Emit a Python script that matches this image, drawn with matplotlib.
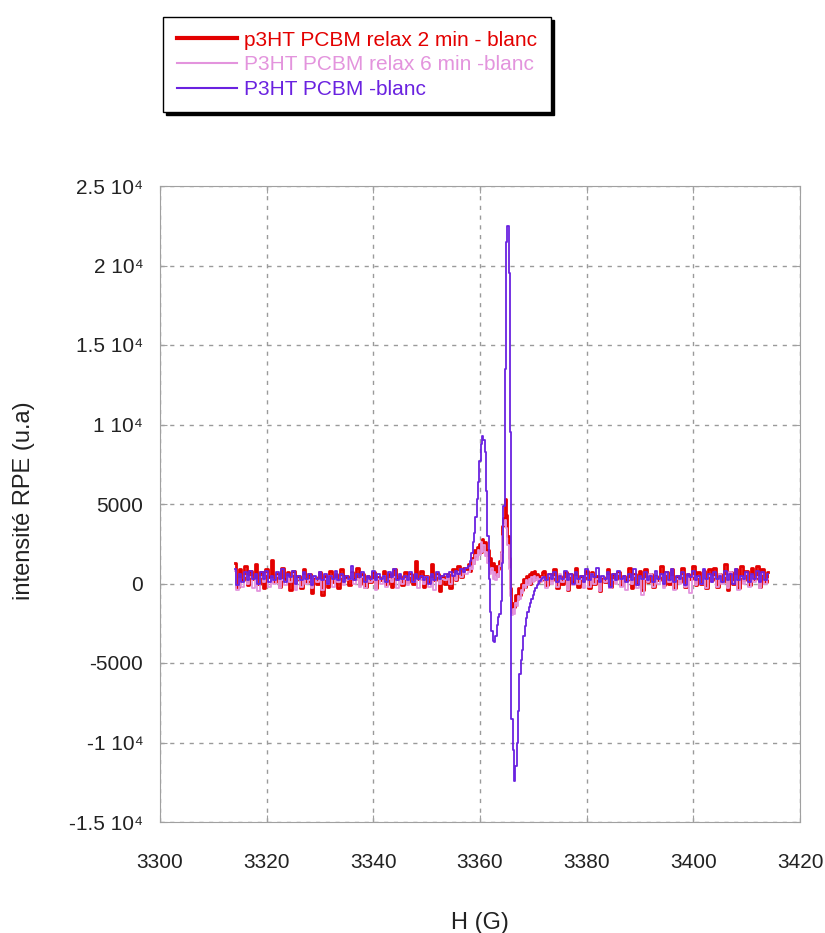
import matplotlib
matplotlib.use("Agg")
import matplotlib.pyplot as plt
from matplotlib.lines import Line2D
import numpy as np

plt.rcParams['font.family'] = ['Liberation Sans', 'DejaVu Sans']

# series names and colours
labels = ["p3HT PCBM relax 2 min - blanc",
          "P3HT PCBM relax 6 min -blanc",
          "P3HT PCBM -blanc"]
colors = ["#e30000", "#e394dd", "#6a22e0"]

# field grid of the sweep, split in three pieces (left baseline, signal, right baseline)
left_start, left_end = 3314.0, 3357.5
right_start, right_end = 3372.0, 3414.0
peak_field = np.arange(3358.0, 3372.0, 0.25)

# ---- p3HT PCBM relax 2 min - blanc (red) ----
red_left = [1300, -200, 900, 200, 1100, -100, 800, 300,
            1200, 0, 700, -300, 900, 400, 1500, 100,
            600, -200, 1000, 300, 700, -400, 800, 200,
            500, -300, 900, 100, 600, -600, 400, 0,
            700, -700, 500, -200, 800, 100, 600, -300,
            900, 200, 500, -100, 700, 300, 1000, 0,
            600, -200, 500, 100, 700, -300, 400, 200,
            800, 0, 600, -200, 900, 300, 500, -100,
            700, 100, 600, 0, 1400, 300, 800, -200,
            500, 100, 1200, 200, 600, -500, 500, 0,
            600, -300, 900, 200, 1100, 400, 1000, 900]
red_peak = [1200, 800, 1600, 1300, 2100, 1700, 2300, 1900,
            2500, 2000, 2800, 2200, 2600, 1800, 2100, 1200,
            1600, 900, 1300, 600, 1100, 500, 900, 1400,
            2000, 3600, 4100, 5300, 4300, 3000, 1600, -300,
            -1800, -1200, -1500, -700, -1000, -300, -700, 0,
            -400, 300, -200, 500, 100, 600, 0, 700,
            200, 800, 300, 600, 100, 500, 200, 700]
red_right = [800, -100, 600, 200, 900, -300, 500, 0,
             700, -400, 600, 100, 1000, -200, 500, 300,
             800, -300, 700, 0, 500, -500, 400, 100,
             900, -200, 600, 300, 700, -100, 500, 200,
             1000, -300, 600, 0, 800, -400, 900, 100,
             600, -200, 500, 200, 1100, -100, 700, 0,
             900, -300, 500, 100, 1000, -200, 600, 300,
             1100, -100, 700, 0, 800, -300, 900, 200,
             1000, -200, 600, 100, 1200, -400, 700, 0,
             900, -300, 1100, 200, 800, -100, 1000, 300,
             1100, -200, 900, 100, 700]

# ---- P3HT PCBM relax 6 min -blanc (pink) ----
pink_left = [800, -400, 300, -200, 500, 0, 400, -300,
             200, -500, 400, 100, 600, -200, 300, 0,
             500, -300, 200, -100, 400, 100, 600, -400,
             300, -200, 500, 0, 200, -300, 400, 100,
             200, -400, 300, 0, 500, -200, 300, 100,
             400, -100, 200, 300, 600, 0, 300, -200,
             400, -300, 300, 100, 200, -400, 300, 0,
             500, -200, 300, 100, 400, -300, 200, 0,
             300, -100, 500, 100, 200, -300, 300, 0,
             400, -200, 300, -400, 500, 0, 300, 200,
             500, 0, 600, 200, 700, 400, 800, 600]
pink_peak = [700, 1100, 900, 1500, 1200, 1800, 1500, 2100,
             1800, 2600, 2000, 2400, 1700, 2000, 1300, 900,
             600, 1000, 300, 700, 200, 600, 400, 1100,
             1900, 3000, 3700, 4000, 3500, 2400, 900, -800,
             -2000, -1600, -1900, -1200, -1400, -800, -1000, -400,
             -600, -100, -300, 200, -100, 300, 0, 400,
             100, 500, 200, 400, 0, 300, 100, 400]
pink_right = [300, -300, 500, 0, 400, -200, 600, 100,
              300, -400, 500, -100, 400, 0, 300, -300,
              500, -200, 600, 0, 300, -500, 400, 100,
              500, -300, 200, 0, 600, -200, 400, -400,
              300, 0, 500, -300, 400, -700, 300, 100,
              600, -200, 400, 0, 500, -300, 600, 100,
              400, -400, 300, 0, 500, -200, 400, -600,
              500, -100, 400, 0, 700, -300, 500, 100,
              400, -200, 600, 0, 500, -300, 700, 100,
              500, -400, 400, 0, 600, -200, 500, 100,
              400, -300, 600, 0, 300]

# ---- P3HT PCBM -blanc (purple) ----
purple_left = [900, -100, 600, 100, 700, 200, 800, 300,
               600, 0, 700, 300, 800, 100, 500, 200,
               700, 300, 900, 100, 600, 400, 800, 0,
               500, 200, 700, 300, 600, -100, 500, 300,
               700, 200, 600, 0, 500, 300, 800, 200,
               600, 100, 500, 300, 1100, 200, 600, 400,
               700, 100, 500, 300, 800, 200, 600, 300,
               500, 100, 700, 400, 900, 200, 600, 300,
               500, 200, 700, 100, 600, 300, 500, 200,
               400, 0, 600, 200, 700, 300, 500, 600,
               400, 700, 500, 800, 600, 900, 700, 1000]
purple_peak = [1100, 1400, 1900, 2600, 3200, 4200, 5300, 6400,
               7700, 8800, 9300, 9000, 8300, 5800, 3000, 300,
               -1800, -3000, -3600, -3700, -3300, -2600, -2100, -1900,
               -1100, 1300, 4900, 13500, 21500, 22500, 19500, 9500,
               -8500, -10500, -12400, -11500, -10000, -8000, -5700, -4800,
               -4200, -3300, -2700, -2200, -1800, -1500, -1200, -1000,
               -700, -500, -300, -100, 0, 150, 300, 350]
purple_right = [400, 200, 600, 300, 700, 100, 500, 300,
                800, 200, 600, 0, 700, 300, 500, 100,
                900, 200, 600, 400, 1000, 100, 500, 300,
                700, -200, 600, 200, 800, 300, 500, 100,
                600, 200, 900, -100, 500, 300, 700, 200,
                500, 100, 800, 300, 600, 0, 700, 200,
                900, 100, 500, 300, 700, -100, 600, 400,
                800, 200, 500, 0, 900, 300, 600, 100,
                700, 300, 500, 100, 800, 200, 600, 0,
                900, 200, 500, 300, 700, 100, 600, 300,
                800, 100, 700, 200, 600]

# axis ticks
x_ticks = [3300, 3320, 3340, 3360, 3380, 3400, 3420]
y_ticks = [25000, 20000, 15000, 10000, 5000, 0, -5000, -10000, -15000]
y_tick_labels = ["2.5 10\u2074", "2 10\u2074", "1.5 10\u2074", "1 10\u2074", "5000",
                 "0", "-5000", "-1 10\u2074", "-1.5 10\u2074"]


def build(left, peak, right):
    f = np.concatenate([np.linspace(left_start, left_end, len(left)),
                        peak_field,
                        np.linspace(right_start, right_end, len(right))])
    v = np.concatenate([left, peak, right]).astype(float)
    return f, v


series = [build(red_left, red_peak, red_right),
          build(pink_left, pink_peak, pink_right),
          build(purple_left, purple_peak, purple_right)]
widths = [2.0, 1.3, 1.3]

fig = plt.figure(figsize=(8.25, 9.33), dpi=100)
ax = fig.add_axes([160 / 825, 1 - 822 / 933, 640 / 825, 636 / 933])

for (f, v), c, lw in zip(series, colors, widths):
    ax.plot(f, v, color=c, lw=lw, drawstyle="steps-mid", zorder=3)

ax.set_xlim(3300, 3420)
ax.set_ylim(-15000, 25000)
ax.set_xticks(x_ticks)
ax.set_yticks(y_ticks)
ax.set_yticklabels(y_tick_labels)

ax.grid(True, color="#9a9a9a", linestyle=(0, (3, 4)), linewidth=1)
for s in ax.spines.values():
    s.set_color("#a0a0a0")
ax.tick_params(direction="in", length=5, color="#a0a0a0", top=True, right=True,
               labelsize=15, labelcolor="#222222")
ax.tick_params(axis="x", pad=22)
ax.tick_params(axis="y", pad=12)

ax.set_xlabel("H (G)", fontsize=17, color="#222222")
ax.set_ylabel("intensité RPE (u.a)", fontsize=17, color="#222222")
ax.xaxis.set_label_coords(0.5, -0.142)
ax.yaxis.set_label_coords(-0.195, 0.505)

handles = [Line2D([], [], color=c, lw=w) for c, w in zip(colors, [3, 1.5, 1.5])]
leg = ax.legend(handles, labels, loc="upper left",
                bbox_to_anchor=(163 / 825, 1 - 17 / 933), bbox_transform=fig.transFigure,
                fontsize=15, labelcolor="linecolor", fancybox=False, framealpha=1,
                edgecolor="black", shadow={"color": "black", "alpha": 1},
                borderaxespad=0, borderpad=0.65, handlelength=2.9, handletextpad=0.35,
                labelspacing=0.27)
leg.get_frame().set_linewidth(1)

fig.savefig("out.png", dpi=100)
